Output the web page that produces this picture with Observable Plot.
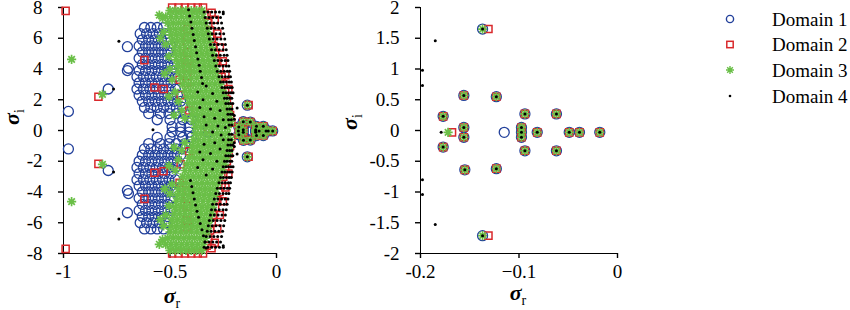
<!DOCTYPE html>
<html><head><meta charset="utf-8">
<script src="https://cdn.jsdelivr.net/npm/d3@7"></script>
<script src="https://cdn.jsdelivr.net/npm/@observablehq/plot@0.6"></script>
<style>
body{margin:0;background:#fff;}
#wrap{position:relative;width:850px;height:310px;font-family:"Liberation Serif","Times New Roman","DejaVu Serif",serif;overflow:hidden;}
#wrap text{font-family:"Liberation Serif","Times New Roman","DejaVu Serif",serif;}
#wrap svg [aria-label$="axis tick"], #wrap svg [aria-label$="axis line"], #wrap svg path.domain, #wrap svg .tick line{stroke-width:1.4px;}
#left{position:absolute;left:0;top:0;}
#right{position:absolute;left:310px;top:0;}
#legend{position:absolute;left:680px;top:0;}
</style></head><body>
<div id="wrap"><div id="left"></div><div id="right"></div><div id="legend"></div></div>
<script>
const domainNames = ["Domain 1","Domain 2","Domain 3","Domain 4"];
const domainColors = ["#22409b","#d9282b","#6abf47","#000000"];

// points common to all four domains (the tail near sigma_r -> 0)
const tailPoints = [[-0.177,0.23],[-0.177,-0.27],[-0.156,0.57],[-0.156,0.05],[-0.156,-0.11],[-0.155,-0.64],
 [-0.123,0.55],[-0.123,-0.62],[-0.094,0.27],[-0.094,-0.33],[-0.062,0.27],[-0.062,-0.33],
 [-0.0975,0.05],[-0.0975,-0.03],[-0.0975,-0.11],[-0.0815,-0.03],[-0.049,-0.03],[-0.0386,-0.03],[-0.018,-0.03]];

// rows: [[sigma_i values], [sigma_r values]]
const d1Rows = [
 [[6.7,-6.4],[-0.62,-0.59,-0.56,-0.53]],
 [[6.3,-6.0],[-0.64,-0.61,-0.58,-0.55,-0.52]],
 [[5.9,-5.6],[-0.63,-0.60,-0.57,-0.54,-0.51]],
 [[5.5,-5.2],[-0.645,-0.615,-0.585,-0.555,-0.525,-0.495]],
 [[5.1,-4.8],[-0.63,-0.60,-0.57,-0.54,-0.51]],
 [[4.7,-4.4],[-0.645,-0.615,-0.585,-0.555,-0.525,-0.495]],
 [[4.3,-4.0],[-0.63,-0.60,-0.57,-0.54,-0.51,-0.48]],
 [[3.9,-3.6],[-0.645,-0.615,-0.585,-0.555,-0.525,-0.495]],
 [[3.5,-3.2],[-0.655,-0.625,-0.595,-0.565,-0.535,-0.505,-0.475]],
 [[3.1,-2.8],[-0.645,-0.615,-0.585,-0.555,-0.525,-0.495]],
 [[2.7,-2.4],[-0.655,-0.625,-0.595,-0.565,-0.535,-0.505,-0.475]],
 [[2.3,-2.0],[-0.645,-0.615,-0.585,-0.555,-0.525,-0.495,-0.465]],
 [[1.9,-1.6],[-0.63,-0.60,-0.57,-0.54,-0.51,-0.48,-0.45]],
 [[1.5,-1.2],[-0.62,-0.59,-0.56,-0.53,-0.50,-0.47,-0.44]],
 [[1.1,-0.85],[-0.60,-0.545,-0.505,-0.47,-0.43]],
 [[0.7,-0.45],[-0.56,-0.50,-0.44,-0.40]],
 [[0.25,-0.1],[-0.49,-0.45,-0.41,-0.32]]
];
const d1Points = [[-0.977,1.24],[-0.977,-1.2],[-0.79,2.7],[-0.79,-2.6],[-0.70,5.45],[-0.695,4.05],[-0.70,3.9],
 [-0.70,-3.9],[-0.695,-4.1],[-0.70,-5.35],[-0.137,1.65],[-0.137,-1.71],[-0.115,-0.03]];

const d2Rows = [
 [[8.0,-8.0],[-0.49,-0.46,-0.43,-0.40,-0.37,-0.345]],
 [[7.5,-7.5],[-0.328]],[[7.0,-7.0],[-0.32]],[[6.5,-6.5],[-0.312]],[[6.0,-6.0],[-0.304]],
 [[5.5,-5.5],[-0.296]],[[5.0,-5.0],[-0.288]],[[4.5,-4.5],[-0.278]],[[4.0,-4.0],[-0.268]],
 [[3.5,-3.5],[-0.258]],[[3.0,-3.0],[-0.25]],[[2.5,-2.5],[-0.241]],[[2.0,-2.0],[-0.233]],
 [[1.5,-1.5],[-0.225]],[[1.0,-1.0],[-0.218]],[[0.5,-0.5],[-0.212]],
 [[7.2,-7.3],[-0.29]],[[6.3,-6.4],[-0.278]],[[5.4,-5.5],[-0.266]],[[4.5,-4.6],[-0.252]],
 [[3.6,-3.7],[-0.24]],[[2.7,-2.8],[-0.226]],
 [[6.6,6.1,5.6,5.1,4.6,4.1,3.6,3.1,-3.9,-4.4,-4.9,-5.4,-5.9,-6.3],[-0.418]]
];
const d2Points = [[-0.99,7.78],[-0.99,-7.7],[-0.836,2.2],[-0.836,-2.17],[-0.62,4.58],[-0.62,-4.45],
 [-0.573,2.8],[-0.573,-2.75],[-0.53,2.7],[-0.53,-2.65],[-0.455,3.3],[-0.455,-3.4],[-0.45,2.3],[-0.45,-2.2],
 [-0.41,1.3],[-0.41,-1.35],[-0.32,0.1],[-0.305,7.65],[-0.305,-7.65],
 [-0.131,1.65],[-0.131,-1.71],[-0.168,-0.03]];

const d3Rows = [
 [[7.8,-7.8],[-0.50,-0.475,-0.45,-0.425,-0.40,-0.375,-0.35]],
 [[7.4,-7.4],[-0.52,-0.495,-0.47,-0.445,-0.42,-0.395,-0.37,-0.345]],
 [[7.0,-7.0],[-0.51,-0.485,-0.46,-0.435,-0.41,-0.385,-0.36,-0.335]],
 [[6.6,-6.6],[-0.50,-0.475,-0.45,-0.425,-0.40,-0.375,-0.35,-0.325]],
 [[6.2,-6.2],[-0.495,-0.47,-0.445,-0.42,-0.395,-0.37,-0.345,-0.32]],
 [[5.8,-5.8],[-0.49,-0.465,-0.44,-0.415,-0.39,-0.365,-0.34,-0.315]],
 [[5.4,-5.4],[-0.48,-0.455,-0.43,-0.405,-0.38,-0.355,-0.33,-0.305]],
 [[5.0,-5.0],[-0.475,-0.45,-0.425,-0.40,-0.375,-0.35,-0.325,-0.30]],
 [[4.6,-4.6],[-0.47,-0.445,-0.42,-0.395,-0.37,-0.345,-0.32,-0.295]],
 [[4.2,-4.2],[-0.465,-0.44,-0.415,-0.39,-0.365,-0.34,-0.315,-0.29]],
 [[3.8,-3.8],[-0.46,-0.435,-0.41,-0.385,-0.36,-0.335,-0.31,-0.285]],
 [[3.4,-3.4],[-0.45,-0.425,-0.40,-0.375,-0.35,-0.325,-0.30,-0.275]],
 [[3.0,-3.0],[-0.44,-0.415,-0.39,-0.365,-0.34,-0.315,-0.29,-0.265]],
 [[2.6,-2.6],[-0.43,-0.405,-0.38,-0.355,-0.33,-0.305,-0.28,-0.255]],
 [[2.2,-2.2],[-0.42,-0.395,-0.37,-0.345,-0.32,-0.295,-0.27,-0.245]],
 [[1.8,-1.8],[-0.41,-0.385,-0.36,-0.335,-0.31,-0.285,-0.26,-0.235]],
 [[1.4,-1.4],[-0.40,-0.375,-0.35,-0.325,-0.30,-0.275,-0.25,-0.225]],
 [[1.0,-1.0],[-0.395,-0.37,-0.345,-0.32,-0.295,-0.27,-0.245,-0.22]],
 [[0.6,-0.6],[-0.39,-0.365,-0.34,-0.315,-0.29,-0.265,-0.24,-0.215]],
 [[0.2,-0.2],[-0.38,-0.355,-0.33,-0.305,-0.28,-0.255,-0.23]],
 [[7.5,-7.4],[-0.55]],[[6.4,-6.2],[-0.53]],[[5.6,-5.5],[-0.52]],[[4.8,-4.9],[-0.505]],
 [[4.0,-4.1],[-0.50]],[[3.3,-3.5],[-0.49]],[[2.5,-2.6],[-0.475]],[[1.9,-1.9],[-0.46]],
 [[1.3,-1.3],[-0.445]],[[0.8,-0.8],[-0.43]],
 [[6.0,-5.8],[-0.545]],[[3.7,-3.8],[-0.525]],[[2.2,-2.3],[-0.505]],[[1.0,-1.1],[-0.48]]
];
const d3Points = [[-0.962,4.63],[-0.962,-4.63],[-0.817,2.35],[-0.817,-2.2],[-0.535,7.3],[-0.535,-7.1],
 [-0.137,1.65],[-0.137,-1.71],[-0.172,-0.03]];

const d4Rows = [
 [[7.7,-7.6],[-0.34,-0.322,-0.304,-0.286,-0.268,-0.25]],
 [[7.35,-7.25],[-0.335,-0.317,-0.299,-0.281,-0.263]],
 [[7.0,-6.9],[-0.33,-0.312,-0.294,-0.276,-0.258]],
 [[6.65,-6.55],[-0.325,-0.307,-0.289,-0.271,-0.253]],
 [[6.3,-6.2],[-0.32,-0.302,-0.284,-0.266,-0.248]],
 [[5.95,-5.85],[-0.315,-0.297,-0.279,-0.261,-0.243]],
 [[5.6,-5.5],[-0.31,-0.292,-0.274,-0.256,-0.24]],
 [[5.25,-5.15],[-0.305,-0.287,-0.269,-0.251,-0.236]],
 [[4.9,-4.8],[-0.30,-0.282,-0.264,-0.246,-0.232]],
 [[4.55,-4.45],[-0.292,-0.275,-0.258,-0.241,-0.228]],
 [[4.2,-4.1],[-0.285,-0.268,-0.251,-0.236,-0.224]],
 [[3.85,-3.75],[-0.278,-0.262,-0.246,-0.231,-0.22]],
 [[3.5,-3.4],[-0.27,-0.255,-0.24,-0.226,-0.216]],
 [[3.15,-3.05],[-0.263,-0.249,-0.235,-0.222,-0.212]],
 [[2.8,-2.7],[-0.256,-0.243,-0.23,-0.218,-0.208]],
 [[2.45,-2.35],[-0.25,-0.237,-0.225,-0.214,-0.204]],
 [[2.1,-2.0],[-0.244,-0.232,-0.22,-0.21]],
 [[1.75,-1.65],[-0.238,-0.226,-0.215,-0.205]],
 [[1.4,-1.3],[-0.232,-0.22,-0.209]],
 [[1.05,-0.95],[-0.228,-0.216,-0.206]],
 [[0.7,-0.6],[-0.225,-0.212]],
 [[0.35,-0.25],[-0.222,-0.21]]
];
const d4Points = [
 [-0.413,7.85],[-0.408,7.45],[-0.402,7.05],[-0.397,6.65],[-0.391,6.25],[-0.386,5.85],[-0.38,5.45],
 [-0.375,5.05],[-0.369,4.65],[-0.363,4.25],[-0.358,3.85],[-0.352,3.45],[-0.347,3.05],
 [-0.404,-3.25],[-0.398,-3.65],[-0.392,-4.05],[-0.386,-4.45],[-0.38,-4.85],[-0.373,-5.25],[-0.366,-5.65],
 [-0.358,-6.05],[-0.35,-6.45],[-0.343,-6.85],[-0.336,-7.25],[-0.33,-7.65],
 [-0.33,2.9],[-0.37,2.5],[-0.30,2.4],[-0.345,2.0],[-0.28,1.9],[-0.36,1.5],[-0.31,1.4],[-0.265,1.3],
 [-0.34,0.9],[-0.29,0.8],[-0.25,0.7],[-0.33,0.35],[-0.275,0.3],[-0.24,0.2],
 [-0.33,-2.9],[-0.37,-2.4],[-0.30,-2.5],[-0.345,-1.9],[-0.28,-2.0],[-0.36,-1.4],[-0.31,-1.5],[-0.265,-1.2],
 [-0.34,-0.9],[-0.29,-0.8],[-0.25,-0.6],[-0.30,-0.1],[-0.26,-0.3],
 [-0.74,5.8],[-0.765,2.7],[-0.58,0.05],[-0.25,7.6],[-0.765,-2.7],[-0.74,-5.75],[-0.25,-7.5],
 [-0.137,1.65],[-0.137,-1.71],[-0.179,-0.03],
 [-0.185,1.46],[-0.198,0.98],[-0.198,0.73],[-0.198,-0.8],[-0.198,-1.04],[-0.185,-1.53]
];

function build(rows, pts) {
  const out = [];
  for (const [ys, xs] of rows) for (const y of ys) for (const x of xs) out.push({x, y});
  for (const [x, y] of pts) out.push({x, y});
  for (const [x, y] of tailPoints) out.push({x, y});
  return out;
}
const data = [build(d1Rows, d1Points), build(d2Rows, d2Points), build(d3Rows, d3Points), build(d4Rows, d4Points)];

const asterisk8 = {
  draw(ctx, size) {
    const r = Math.sqrt(size / Math.PI), d = r * Math.SQRT1_2;
    ctx.moveTo(-r, 0); ctx.lineTo(r, 0);
    ctx.moveTo(0, -r); ctx.lineTo(0, r);
    ctx.moveTo(-d, -d); ctx.lineTo(d, d);
    ctx.moveTo(-d, d); ctx.lineTo(d, -d);
  }
};

function domainMarks(filter) {
  const f = arr => arr.filter(filter);
  return [
    Plot.dot(f(data[0]), {x: "x", y: "y", r: 5, stroke: domainColors[0], strokeWidth: 1.3, fill: "none"}),
    Plot.dot(f(data[1]), {x: "x", y: "y", r: 4, symbol: "square", stroke: domainColors[1], strokeWidth: 1.5, fill: "none"}),
    Plot.dot(f(data[2]), {x: "x", y: "y", r: 4.6, symbol: asterisk8, stroke: domainColors[2], strokeWidth: 1.7, fill: "none"}),
    Plot.dot(f(data[3]), {x: "x", y: "y", r: 1.5, fill: domainColors[3], stroke: "none"})
  ];
}
const minusFmt = d => d < 0 ? "-" + String(-d) : String(d);
const FONT = "'Liberation Serif', 'Times New Roman', 'DejaVu Serif', serif";
const style = {fontSize: "19px", fontFamily: FONT, color: "#000", background: "transparent", overflow: "visible"};

const leftXTicks = [-1, -0.5, 0];
const leftXLabels = ["-1", "\u22120.5", "0"];
const leftYTicks = [-8, -6, -4, -2, 0, 2, 4, 6, 8];
const rightXTicks = [-0.2, -0.1, 0];
const rightXLabels = ["-0.2", "\u22120.1", "0"];
const rightYTicks = [-2, -1.5, -1, -0.5, 0, 0.5, 1, 1.5, 2];

const left = Plot.plot({
  width: 300, height: 310, marginLeft: 63, marginRight: 24, marginTop: 7, marginBottom: 57,
  style,
  x: {domain: [-1, 0], ticks: leftXTicks, tickFormat: d => leftXLabels[leftXTicks.indexOf(d)], tickSize: 5, tickPadding: 6, label: null, line: true},
  y: {domain: [-8, 8], ticks: leftYTicks, tickFormat: minusFmt, tickSize: 5, tickPadding: 16, label: null, line: true},
  marks: domainMarks(() => true)
});
document.getElementById("left").appendChild(left);

const right = Plot.plot({
  width: 320, height: 310, marginLeft: 110, marginRight: 13, marginTop: 7, marginBottom: 57,
  style,
  x: {domain: [-0.2, 0], ticks: rightXTicks, tickFormat: d => rightXLabels[rightXTicks.findIndex(t => Math.abs(t - d) < 1e-9)], tickSize: 5, tickPadding: 6, label: null, line: true},
  y: {domain: [-2, 2], ticks: rightYTicks, tickFormat: minusFmt, tickSize: 5, tickPadding: 16, label: null, line: true},
  marks: domainMarks(p => p.x >= -0.2 && p.x <= 0 && Math.abs(p.y) <= 2.05)
});
document.getElementById("right").appendChild(right);

function axisTitle(svg, x, y, sub, rotate) {
  const t = d3.select(svg).append("text")
    .attr("transform", `translate(${x},${y})` + (rotate ? " rotate(-90)" : ""))
    .attr("text-anchor", "middle")
    .style("font-family", FONT).style("fill", "#000");
  t.append("tspan").text("\u03c3").style("font-weight", "bold").style("font-style", "italic").style("font-size", "22px");
  t.append("tspan").text(sub).attr("dy", 5).style("font-size", "14px");
}
axisTitle(left, 172, 303, "r", false);
axisTitle(left, 19, 117, "i", true);
axisTitle(right, 208, 300, "r", false);
axisTitle(right, 47, 122, "i", true);

d3.selectAll("#wrap svg text").style("font-family", FONT);

// legend
const lg = d3.select("#legend").append("svg").attr("width", 170).attr("height", 120);
const ly = [19, 44.5, 70, 96];
domainNames.forEach((name, i) => {
  const g = lg.append("g").attr("transform", `translate(50,${ly[i]})`);
  if (i === 0) g.append("circle").attr("r", 3.6).attr("fill", "none").attr("stroke", domainColors[0]).attr("stroke-width", 1.4);
  if (i === 1) g.append("rect").attr("x", -3.2).attr("y", -3.2).attr("width", 6.4).attr("height", 6.4).attr("fill", "none").attr("stroke", domainColors[1]).attr("stroke-width", 1.5);
  if (i === 2) g.append("path").attr("d", d3.symbol(asterisk8, Math.PI * 16)()).attr("stroke", domainColors[2]).attr("stroke-width", 1.4);
  if (i === 3) g.append("circle").attr("r", 1.3).attr("fill", "#000");
  lg.append("text").attr("x", 92).attr("y", ly[i] + 6.5).text(name)
    .style("font-family", FONT).style("font-size", "19px").style("fill", "#000");
});
</script>
</body></html>
